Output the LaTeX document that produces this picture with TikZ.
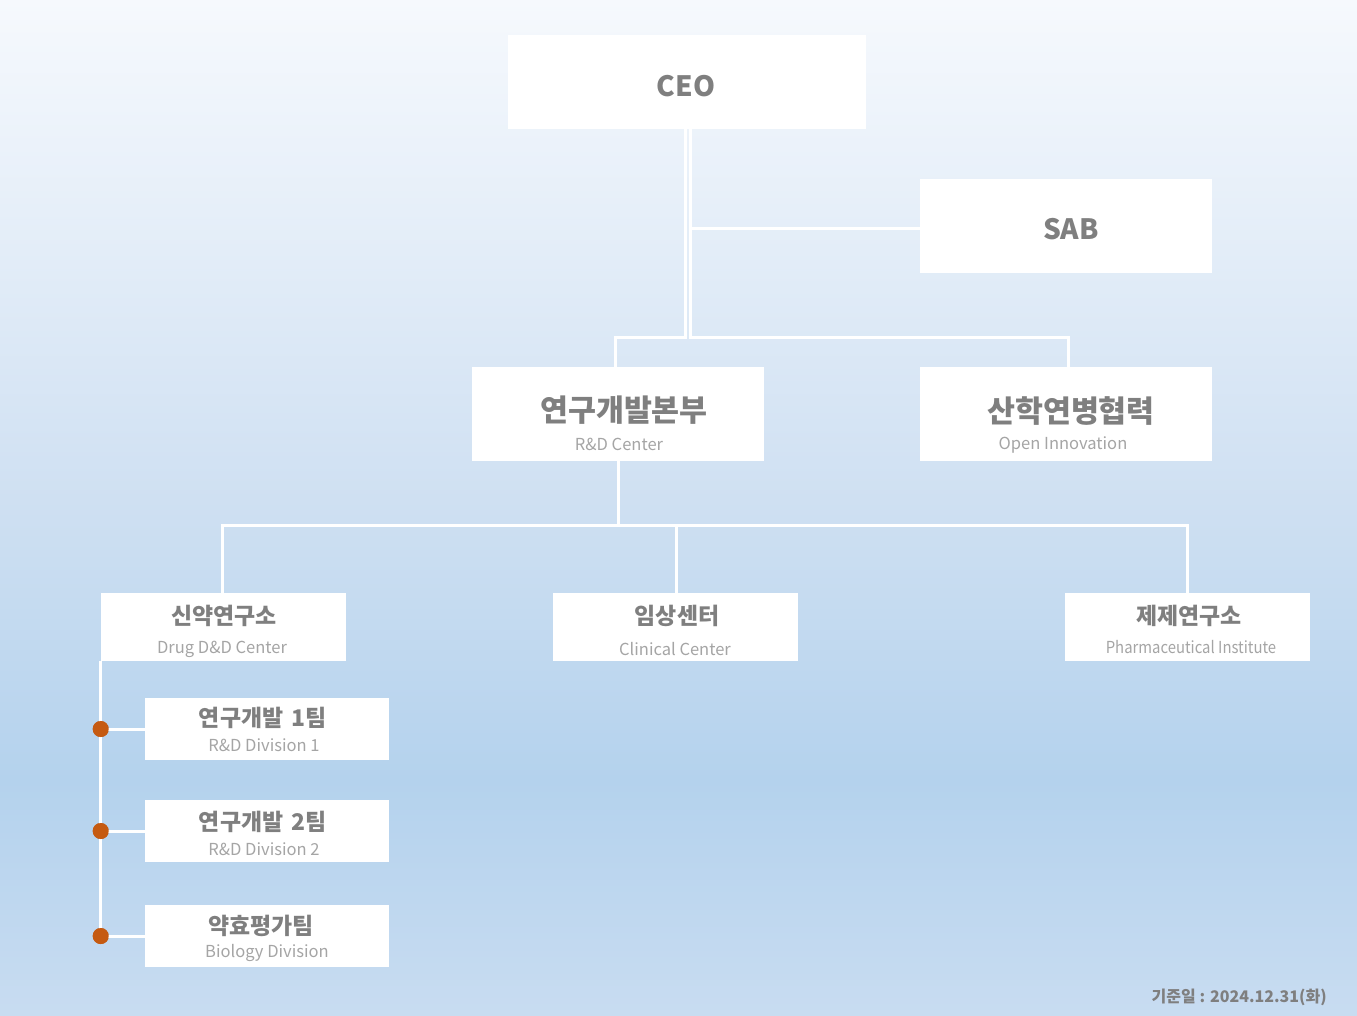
\documentclass[tikz,border=0pt]{standalone}
\usepackage{fontspec}
\setmainfont{Noto Sans CJK KR}
\definecolor{tgray}{HTML}{7F7F7F}
\definecolor{sgray}{HTML}{A5A5A5}
\definecolor{dotc}{HTML}{C55A11}
\definecolor{bg0}{HTML}{F6F9FD}
\definecolor{bg1}{HTML}{E3EDF8}
\definecolor{bg2}{HTML}{CFE0F2}
\definecolor{bg3}{HTML}{B4D2ED}
\definecolor{bg4}{HTML}{C8DCF1}
\pgfdeclareverticalshading{bgsh}{100bp}{color(0bp)=(bg4); color(25bp)=(bg4); color(36.6bp)=(bg3); color(50.4bp)=(bg2); color(62.7bp)=(bg1); color(75bp)=(bg0); color(100bp)=(bg0)}
\tikzset{
  box/.style={fill=white, draw=none, inner sep=0pt},
  bigbox/.style={box, minimum width=219pt, minimum height=70.5pt},
  midbox/.style={box, minimum width=183.75pt, minimum height=51pt},
  smallbox/.style={box, minimum width=183pt, minimum height=46.5pt},
  toptitle/.style={font=\fontsize{21}{25}\selectfont\bfseries, text=tgray, inner sep=0pt},
  bigtitle/.style={font=\fontsize{22.8}{27}\selectfont\bfseries, text=tgray, inner sep=0pt},
  midtitle/.style={font=\fontsize{17.2}{20}\selectfont\bfseries, text=tgray, inner sep=0pt},
  subtitle/.style={font=\fontsize{12.4}{15}\selectfont, text=sgray, inner sep=0pt},
  conn/.style={draw=white, line width=2.25pt},
  dot/.style={circle, fill=dotc, draw=none, minimum size=12pt, inner sep=0pt},
}
\begin{document}
\begin{tikzpicture}[x=0.75pt,y=-0.75pt]
\useasboundingbox (0,0) rectangle (1357,1015);
\shade[shading=bgsh] (0,0) rectangle (1357,1015);

% boxes
\node[box, minimum width=268.5pt, minimum height=70.5pt] (ceo) at (687,82) {};
\node[bigbox] (sab) at (1066,226) {};
\node[bigbox] (rd) at (618,414) {};
\node[bigbox] (oi) at (1066,414) {};
\node[midbox] (drug) at (223.5,627) {};
\node[midbox] (clin) at (675.5,627) {};
\node[midbox] (pharm) at (1187,627) {};
\node[smallbox] (div1) at (267,729) {};
\node[smallbox] (div2) at (267,831) {};
\node[smallbox] (bio) at (267,936) {};

% connectors
\coordinate (xl) at (685,337);
\coordinate (xr) at (690,337);
\coordinate (hb) at (618,525);
\coordinate (sy) at (0,228);
\draw[conn] (ceo.south -| xl) -- (xl) -| ([xshift=-2.25pt]rd.north);
\draw[conn] (ceo.south -| xr) -- (xr) -| ([xshift=1.5pt]oi.north);
\draw[conn] (sab.west |- sy) -- (xr |- sy);
\draw[conn] (rd.south) -- (hb);
\draw[conn] ([xshift=-1pt]drug.north) -- ([xshift=-1pt]drug.north |- hb) -- (pharm.north |- hb) -- (pharm.north);
\draw[conn] ([xshift=1pt]clin.north) -- ([xshift=1pt]clin.north |- hb);
\node[dot] (d1) at (drug.south west |- div1.west) {};
\node[dot] (d2) at (drug.south west |- div2.west) {};
\node[dot] (d3) at (drug.south west |- bio.west) {};
\draw[conn] (drug.south west) -- (d3.center);
\draw[conn] (d1.center) -- (div1.west);
\draw[conn] (d2.center) -- (div2.west);
\draw[conn] (d3.center) -- (bio.west);
\node[dot] at (d1) {};
\node[dot] at (d2) {};
\node[dot] at (d3) {};

% texts
\node[toptitle] (ceo-t) at (686,86) {CEO};
\node[toptitle] (sab-t) at (1071,229) {SAB};
\node[bigtitle] (rd-t) at (624,410) {연구개발본부};
\node[subtitle] (rd-s) at (619,444) {R\&D Center};
\node[bigtitle] (oi-t) at (1071,411) {산학연병협력};
\node[subtitle] (oi-s) at (1063,445) {Open Innovation};
\node[midtitle] (drug-t) at (224,616) {신약연구소};
\node[subtitle] (drug-s) at (222,649) {Drug D\&D Center};
\node[midtitle] (clin-t) at (677,616) {임상센터};
\node[subtitle] (clin-s) at (675,649) {Clinical Center};
\node[midtitle] (pharm-t) at (1189,616) {제제연구소};
\node[subtitle] (pharm-s) at (1191,647) {\scalebox{0.9}[1]{Pharmaceutical Institute}};
\node[midtitle] (div1-t) at (263,718) {연구개발\hspace{0.15em} 1팀};
\node[subtitle] (div1-s) at (264,745) {R\&D Division 1};
\node[midtitle] (div2-t) at (263,822) {연구개발\hspace{0.15em} 2팀};
\node[subtitle] (div2-s) at (264,849) {R\&D Division 2};
\node[midtitle] (bio-t) at (261,926) {약효평가팀};
\node[subtitle] (bio-s) at (267,953) {Biology Division};
\node[anchor=east, font=\fontsize{12}{14}\selectfont\bfseries, text=tgray, inner sep=0pt] (foot) at (1327,997) {기준일 : 2024.12.31(화)};
\end{tikzpicture}
\end{document}
